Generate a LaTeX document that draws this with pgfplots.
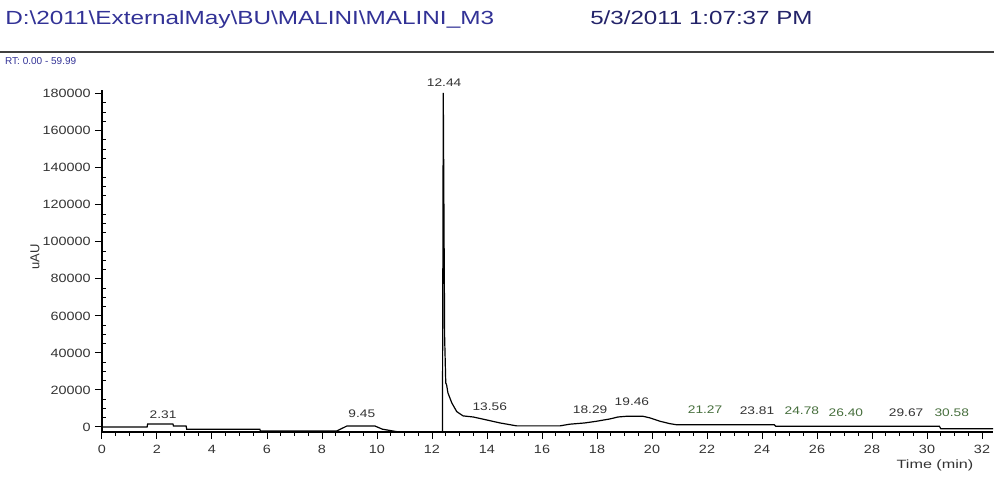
\documentclass[border=0pt]{standalone}
\usepackage{fontspec}
\setmainfont{Liberation Sans}
\usepackage{pgfplots}
\pgfplotsset{compat=1.18}
\definecolor{hdrblue}{RGB}{50,50,150}
\definecolor{pkgreen}{RGB}{70,110,60}

\begin{document}
\begin{tikzpicture}[x=1pt,y=1pt]
\useasboundingbox (-102,-47) rectangle (892,432);

\begin{axis}[%
at={(0,0)}, anchor=south west,%
scale only axis,%
width=891pt, height=342pt,%
xmin=0, xmax=32.4,%
ymin=-2700, ymax=182000,%
axis lines*=left,%
clip=false,%
xtick={0,2,...,32},%
minor x tick num=3,%
ytick={0,20000,...,180000},%
minor y tick num=3,%
scaled y ticks=false,%
/pgf/number format/assume math mode=true,%
yticklabel style={/pgf/number format/fixed,/pgf/number format/1000 sep={}},%
xticklabel style={yshift=-3pt},%
tick label style={font=\fontsize{12}{14}\selectfont, text=black!80, xscale=1.2},%
tick align=outside,%
major tick length=7pt, minor tick length=4pt,%
every tick/.style={black, line width=1pt},%
minor y tick style={xshift=4pt},%
axis line style={line width=1.4pt}]%

\addplot [%
color=black,%
solid,%
line width=1.2pt%
] coordinates{
(0,0) (1.64,0) (1.66,1600) (2.58,1600) (2.60,500) (3.06,500)
(3.08,-1200) (5.74,-1200) (5.76,-2200) (8.53,-2200) (8.9,500) (9.93,500)
(10.2,-1200) (10.6,-2200) (10.8,-2700) (12.38,-2700)
(12.41,180500) (12.46,48200) (12.50,23800) (12.53,22800) (12.58,18400)
(12.72,13000) (12.9,8300) (13.13,6000) (13.5,5400) (13.99,3800)
(14.47,2200) (15.08,600) (16.65,600) (17.0,1500) (17.56,2200)
(17.98,3100) (18.47,4350) (18.76,5400) (19.08,5800) (19.67,5800)
(19.93,4900) (20.29,3100) (20.65,1800) (20.9,1200) (24.45,1200)
(24.5,400) (30.45,400) (30.5,-900) (32.4,-900)
};

\begin{scope}[every node/.style={font=\fontsize{11}{13}\selectfont, text=black!80, xscale=1.25}]
\node at (axis cs:2.22,6500) {2.31};
\node at (axis cs:9.45,7000) {9.45};
\node at (axis cs:12.44,186000) {12.44};
\node at (axis cs:14.1,10800) {13.56};
\node at (axis cs:17.75,9200) {18.29};
\node at (axis cs:19.27,13500) {19.46};
\node[text=pkgreen] at (axis cs:21.93,9200) {21.27};
\node at (axis cs:23.82,8600) {23.81};
\node[text=pkgreen] at (axis cs:25.45,8600) {24.78};
\node[text=pkgreen] at (axis cs:27.05,7600) {26.40};
\node at (axis cs:29.24,7600) {29.67};
\node[text=pkgreen] at (axis cs:30.9,7600) {30.58};
\end{scope}

\end{axis}

% header
\node[anchor=base west, text=hdrblue, font=\fontsize{19}{22}\selectfont, inner sep=0pt, xscale=1.28]
  at (-97,407) {D:\textbackslash 2011\textbackslash ExternalMay\textbackslash BU\textbackslash MALINI\textbackslash MALINI\_M3};
\node[anchor=base west, text=hdrblue!70!black, font=\fontsize{19}{22}\selectfont, inner sep=0pt, xscale=1.27]
  at (488,407) {5/3/2011 1:07:37 PM};
\draw[black!75, line width=2pt] (-102,380) -- (892,380);
\node[anchor=base west, text=hdrblue, font=\fontsize{10}{12}\selectfont, inner sep=0pt]
  at (-97,367) {RT: 0.00 - 59.99};

% axis titles
\node[rotate=90, font=\fontsize{13}{15}\selectfont, text=black!80] at (-67,175) {uAU};
\node[font=\fontsize{12}{14}\selectfont, text=black!80, xscale=1.35] at (833,-33) {Time (min)};

\end{tikzpicture}
\end{document}
